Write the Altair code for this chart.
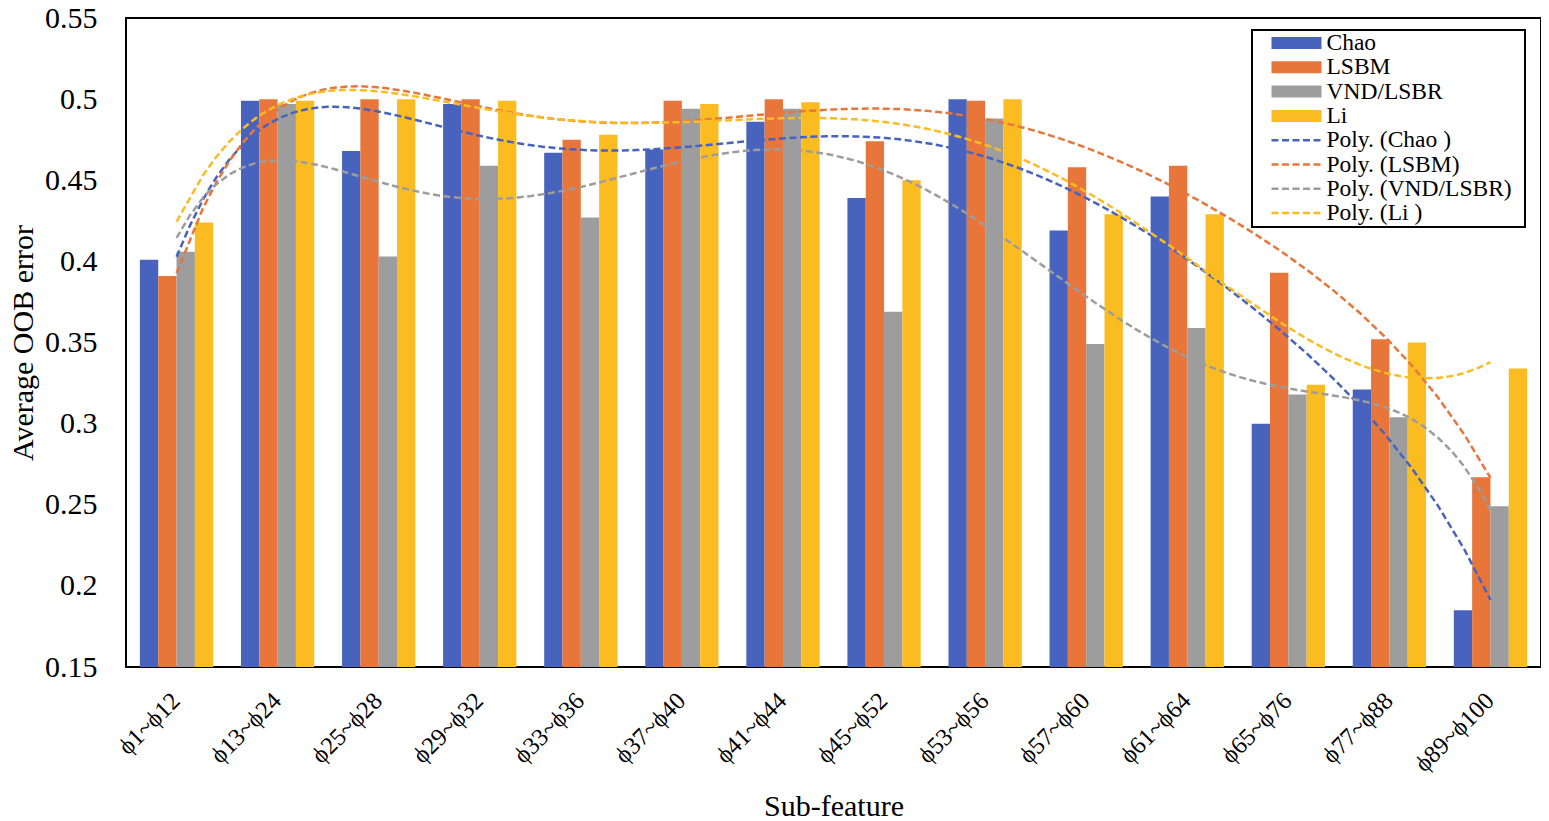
import altair as alt
import pandas as pd

categories = ["ϕ1~ϕ12", "ϕ13~ϕ24", "ϕ25~ϕ28", "ϕ29~ϕ32", "ϕ33~ϕ36", "ϕ37~ϕ40",
              "ϕ41~ϕ44", "ϕ45~ϕ52", "ϕ53~ϕ56", "ϕ57~ϕ60", "ϕ61~ϕ64", "ϕ65~ϕ76",
              "ϕ77~ϕ88", "ϕ89~ϕ100"]
series = ["Chao", "LSBM", "VND/LSBR", "Li"]
trend_labels = ["Poly. (Chao )", "Poly. (LSBM)", "Poly. (VND/LSBR)", "Poly. (Li )"]
colors = ["#4763BE", "#E8763A", "#9D9D9D", "#FBBC22"]

chao = [0.401, 0.499, 0.468, 0.497, 0.467, 0.469, 0.486, 0.439, 0.500, 0.419, 0.440, 0.300, 0.321, 0.185]
lsbm = [0.391, 0.500, 0.500, 0.500, 0.475, 0.499, 0.500, 0.474, 0.499, 0.458, 0.459, 0.393, 0.352, 0.267]
vnd = [0.406, 0.497, 0.403, 0.459, 0.427, 0.494, 0.494, 0.369, 0.488, 0.349, 0.359, 0.318, 0.304, 0.249]
li = [0.424, 0.499, 0.500, 0.499, 0.478, 0.497, 0.498, 0.450, 0.500, 0.429, 0.429, 0.324, 0.350, 0.334]

y_ticks = [0.15, 0.2, 0.25, 0.3, 0.35, 0.4, 0.45, 0.5, 0.55]

rows = []
for s, t, vals in zip(series, trend_labels, [chao, lsbm, vnd, li]):
    for i, (c, v) in enumerate(zip(categories, vals)):
        rows.append({"cat": c, "idx": i + 1, "series": s, "trend": t, "value": v})
df = pd.DataFrame(rows)

FONT = "Liberation Serif"
keys = series + trend_labels

legend = alt.Legend(
    title="\u00a0", titleOrient="right", titlePadding=12, titleFontSize=23.5, titleFont=FONT,
    orient="none", legendX=1126, legendY=12,
    padding=1, strokeColor="black", fillColor="white",
    symbolType="stroke", symbolSize=2500,
    clipHeight=24, rowPadding=0.3, symbolOffset=12.5, labelOffset={"expr": "-1"},
    labelFont=FONT, labelFontSize=23.5, labelColor="black", labelLimit=400,
)

y_enc = alt.Y(
    "value:Q",
    scale=alt.Scale(domain=[0.15, 0.55], nice=False, zero=False),
    axis=alt.Axis(values=y_ticks, format="~g", title="Average OOB error",
                  labelFont=FONT, labelFontSize=30, labelColor="black",
                  titleFont=FONT, titleFontSize=30, titleFontWeight="normal", titleColor="black",
                  ticks=False, domain=False, grid=False, labelPadding=29, titlePadding=6),
)

bars = alt.Chart(df).mark_bar(clip=True).encode(
    x=alt.X("cat:N", sort=categories,
            scale=alt.Scale(paddingInner=0.275, paddingOuter=0.1375),
            axis=alt.Axis(title="Sub-feature", labelAngle=-45, labelAlign="right", labelBaseline="middle",
                          labelFont=FONT, labelFontSize=24.5, labelColor="black", labelPadding=30,
                          titleFont=FONT, titleFontSize=30, titleFontWeight="normal", titleColor="black",
                          ticks=False, domain=False, grid=False, titlePadding=15)),
    xOffset=alt.XOffset("series:N", sort=series, scale=alt.Scale(paddingInner=0, paddingOuter=0)),
    y=y_enc,
    fill=alt.Fill("series:N", scale=alt.Scale(domain=series, range=colors), legend=None),
)

lines = alt.Chart(df).transform_regression(
    "idx", "value", method="poly", order=6, groupby=["trend"]
).mark_line(clip=True).encode(
    x=alt.X("idx:Q", scale=alt.Scale(domain=[0.5, 14.5], nice=False, zero=False), axis=None),
    y=alt.Y("value:Q"),
    stroke=alt.Stroke("trend:N", scale=alt.Scale(domain=keys, range=colors + colors), legend=legend),
    strokeDash=alt.StrokeDash("trend:N", scale=alt.Scale(domain=keys, range=[[1, 0]] * 4 + [[7, 3.5]] * 4), legend=legend),
    strokeWidth=alt.StrokeWidth("trend:N", scale=alt.Scale(type="ordinal", domain=keys, range=[12] * 4 + [2.5] * 4), legend=legend),
)

chart = alt.layer(bars, lines).resolve_scale(x="independent").properties(
    width=1415, height=649,
    autosize=alt.AutoSizeParams(type="none"),
    padding={"left": 118, "top": 10, "right": 0, "bottom": 154},
).configure_view(stroke="black", strokeWidth=2).configure_legend(strokeWidth=2)

chart.save("out.html", embed_options={"renderer": "svg", "actions": False})
